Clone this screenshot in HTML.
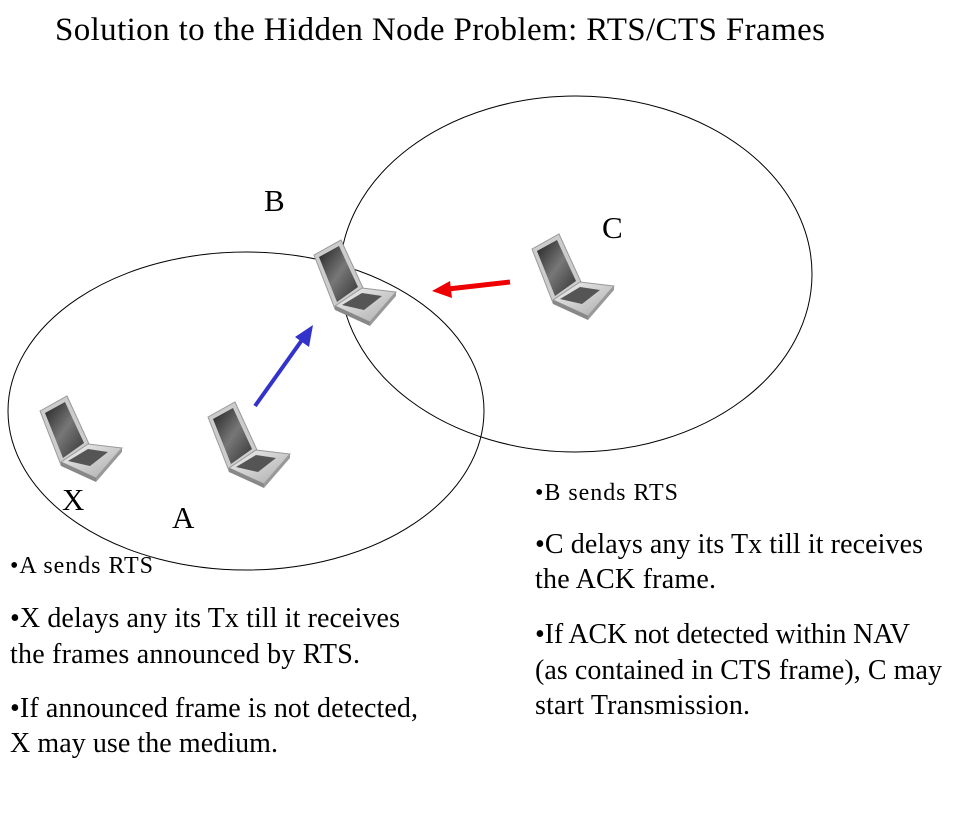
<!DOCTYPE html>
<html><head><style>body{margin:0;background:#fff}svg{display:block}</style></head>
<body>
<svg width="966" height="832" viewBox="0 0 966 832" xmlns="http://www.w3.org/2000/svg" font-family="Liberation Serif, serif">
<defs>
<linearGradient id="scr" x1="0" y1="0" x2="1" y2="1"><stop offset="0" stop-color="#222"/><stop offset="0.5" stop-color="#777"/><stop offset="1" stop-color="#333"/></linearGradient>
<linearGradient id="bas" x1="0" y1="0" x2="1" y2="1"><stop offset="0" stop-color="#f2f2f2"/><stop offset="1" stop-color="#aaa"/></linearGradient>
<g id="lap">
<polygon points="0,17 27,2 49,50 21,71" fill="#ccc" stroke="#999" stroke-width="1"/>
<polygon points="5,19 25,8 44,49 23,64" fill="url(#scr)"/>
<polygon points="21,68 48,50 82,54 56,84" fill="url(#bas)" stroke="#999" stroke-width="1"/>
<polygon points="28,67 48,55 68,58 50,72" fill="#555"/>
<polygon points="21,68 56,84 56,88 21,72" fill="#888"/>
<polygon points="56,84 82,54 82,58 56,88" fill="#999"/>
</g>
</defs>
<text x="55" y="40" font-size="33" textLength="770">Solution to the Hidden Node Problem: RTS/CTS Frames</text>
<ellipse cx="246" cy="411" rx="238" ry="159" fill="none" stroke="#000" stroke-width="1"/>
<ellipse cx="576" cy="274" rx="236" ry="178" fill="none" stroke="#000" stroke-width="1"/>
<use href="#lap" x="314" y="238"/>
<use href="#lap" x="532" y="232"/>
<use href="#lap" x="40" y="394"/>
<use href="#lap" x="208" y="400"/>
<line x1="255" y1="406" x2="302" y2="340" stroke="#3333cc" stroke-width="4"/>
<polygon points="313,325 295,337 309,347" fill="#3333cc"/>
<line x1="510" y1="282" x2="448" y2="289" stroke="#ee0000" stroke-width="5"/>
<polygon points="432,291 450,281 452,298" fill="#ee0000"/>
<g font-size="31">
<text x="264" y="211">B</text>
<text x="602" y="238">C</text>
<text x="62" y="510">X</text>
<text x="172" y="528">A</text>
</g>
<g font-size="24">
<text x="10" y="573" textLength="143">•A sends RTS</text>
<text x="535" y="500" textLength="143">•B sends RTS</text>
</g>
<g font-size="28">
<text x="10" y="627" textLength="390">•X delays any its Tx till it receives</text>
<text x="10" y="663" textLength="350">the frames announced by RTS.</text>
<text x="10" y="717" textLength="408">•If announced frame is not detected,</text>
<text x="10" y="752" textLength="268">X may use the medium.</text>
<text x="535" y="553" textLength="388">•C delays any its Tx till it receives</text>
<text x="535" y="588" textLength="181">the ACK frame.</text>
<text x="535" y="643" textLength="375">•If ACK not detected within NAV</text>
<text x="535" y="679" textLength="407">(as contained in CTS frame), C may</text>
<text x="535" y="714" textLength="215">start Transmission.</text>
</g>
</svg>
</body></html>
